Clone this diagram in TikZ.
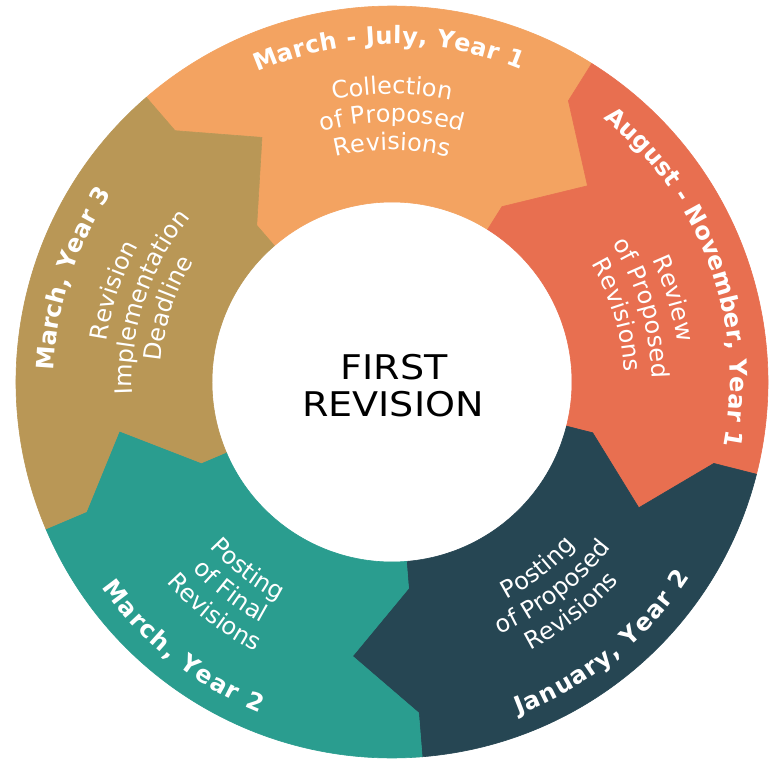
\documentclass[tikz,border=0pt]{standalone}
\usepackage{fontspec}
\setmainfont{DejaVu Sans}
\usetikzlibrary{decorations.text}
\definecolor{segorange}{HTML}{F3A361}
\definecolor{segred}{HTML}{E86F50}
\definecolor{segdark}{HTML}{264653}
\definecolor{segteal}{HTML}{2A9D8F}
\definecolor{segbrown}{HTML}{B99756}
\newcommand\ROut{376}
\newcommand\RBo{332}
\newcommand\RTip{277}
\newcommand\RBi{207}
\newcommand\RIn{180}
\newcommand\TipA{12.8}
\newcommand\datefont{\fontsize{24}{24}\selectfont\bfseries\color{white}}
\newcommand\bodyfont{\fontsize{24}{24}\selectfont\color{white}}
% segment: colour, trailing boundary angle, leading boundary angle
\newcommand\ringsegment[3]{%
  \fill[#1, draw=#1, line width=0.6pt, line join=round]
    (#2:\ROut) arc[start angle=#2, end angle=#3, radius=\ROut]
    -- (#3:\RBo) -- (#3-\TipA:\RTip) -- (#3:\RBi) -- (#3:\RIn)
    arc[start angle=#3, end angle=#2, radius=\RIn]
    -- (#2:\RBi) -- (#2-\TipA:\RTip) -- (#2:\RBo) -- cycle;
}
% date label along arc, fitted between two angles: radius, from, to, text
\newcommand\datearc[4]{%
  \path[decorate, decoration={text along path, text={|\datefont|#4}, text align={fit to path}}]
    (#2:#1) arc[start angle=#2, end angle=#3, radius=#1];
}
% body line, clockwise (upper segments): centre angle, radius, text
\newcommand\cwline[3]{%
  \path[decorate, decoration={text along path, text={|\bodyfont|#3}, text align=center}]
    (#1+45:#2) arc[start angle=#1+45, end angle=#1-45, radius=#2];
}
% body line, counter-clockwise (lower segments)
\newcommand\ccwline[3]{%
  \path[decorate, decoration={text along path, text={|\bodyfont|#3}, text align=center}]
    (#1-45:#2) arc[start angle=#1-45, end angle=#1+45, radius=#2];
}
\begin{document}
\begin{tikzpicture}[x=1pt, y=1pt]
\fill[white] (-392,-381) rectangle (382,382);
\useasboundingbox (-392,-381) rectangle (382,382);

\ringsegment{segorange}{130.8}{57.9}
\ringsegment{segred}{57.9}{-14.2}
\ringsegment{segdark}{-14.2}{-85.4}
\ringsegment{segteal}{-85.4}{-157}
\ringsegment{segbrown}{203}{130.8}

% date labels
\datearc{338}{113.5}{67.5}{March - July, Year 1}
\datearc{338}{51.3}{-10.9}{August - November, Year 1}
\datearc{356}{-69.2}{-33.2}{January, Year 2}
\datearc{356}{-144.7}{-111.8}{March, Year 2}
\datearc{338}{178.1}{146.2}{March, Year 3}

% orange
\cwline{90}{288}{Collection}
\cwline{90}{260}{of Proposed}
\cwline{90}{232}{Revisions}
% red
\cwline{16.5}{288}{Review}
\cwline{16.5}{260}{of Proposed}
\cwline{16.5}{232}{Revisions}
% dark
\ccwline{-52}{246}{Posting}
\ccwline{-52}{274}{of Proposed}
\ccwline{-52}{302}{Revisions}
% teal
\ccwline{-127.6}{246}{Posting}
\ccwline{-127.6}{274}{of Final}
\ccwline{-127.6}{302}{Revisions}
% brown
\cwline{161.8}{288}{Revision}
\cwline{161.8}{260}{Implementation}
\cwline{161.8}{232}{Deadline}

% centre
\node[anchor=base, inner sep=0pt, xscale=1.12, font=\fontsize{34}{34}\selectfont] (first) at (2,3) {FIRST};
\node[anchor=base, inner sep=0pt, xscale=1.12, font=\fontsize{34}{34}\selectfont] (revision) at (1,-34) {REVISION};
\end{tikzpicture}
\end{document}
